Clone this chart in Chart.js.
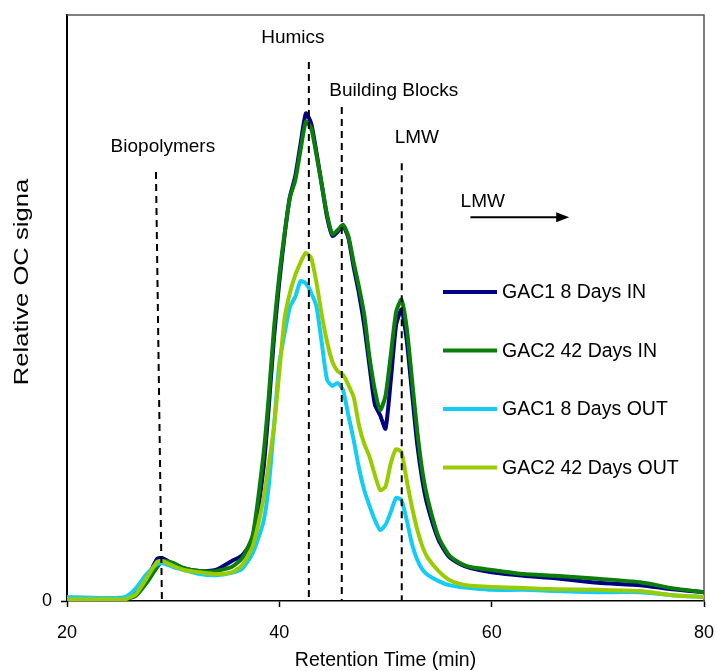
<!DOCTYPE html>
<html>
<head>
<meta charset="utf-8">
<script src="https://cdn.jsdelivr.net/npm/chart.js@4"></script>
<style>
  html, body { margin: 0; padding: 0; background: #fff; }
  canvas { display: block; }
</style>
</head>
<body>
<canvas id="sec" width="717" height="671"></canvas>
<script>
// retention time grid (min)
const times = [20, 24, 25.5, 26.5, 27.5, 28.5, 29, 30, 31, 32.5, 34, 35.5, 36.5, 37.5, 38.5, 39, 39.5, 40, 40.5, 41, 41.5, 42, 42.5, 43, 43.5, 44, 44.5, 45, 45.5, 46, 46.5, 47, 47.5, 48, 48.5, 49, 49.5, 50, 50.5, 51, 51.5, 52, 52.5, 53, 53.5, 54, 55, 56, 57, 58, 60, 63, 66, 70, 74, 77, 80]

const gac1In = [0.5, 0.5, 0.5, 1.5, 3.8, 7.2, 7.3, 6.3, 5.6, 5.1, 5.3, 6.8, 7.8, 10.5, 22.5, 33, 45, 54.5, 62.5, 69, 72.5, 78, 83.2, 81.5, 76.5, 71, 65.5, 62.3, 63, 64, 62, 57, 52.5, 47, 40, 33.5, 31.7, 29.4, 37.7, 47.1, 49.7, 44.5, 35.5, 26.6, 20.3, 16, 10.4, 7.5, 6.3, 5.6, 4.9, 4.3, 3.9, 3.1, 2.7, 2, 1.5]
const gac2In = [0.3, 0.3, 0.3, 0.9, 3.1, 5.8, 6.8, 6.5, 5.6, 5.1, 5.1, 5.8, 7.3, 11.3, 24.9, 34.8, 46.6, 55.6, 62.8, 68.9, 71.8, 77, 81.8, 80.7, 76.1, 71, 65.9, 62.6, 63.3, 64.2, 62.3, 57.8, 53.6, 48.8, 41.5, 36, 32.6, 35, 42, 49.3, 51.4, 46.6, 37.7, 28.8, 21.8, 17.2, 10.9, 7.8, 6.5, 5.8, 5.3, 4.6, 4.3, 3.8, 3.2, 2.2, 1.5]
const gac1Out = [0.7, 0.5, 0.7, 2.2, 4.6, 6.3, 6.5, 5.8, 5.3, 4.6, 4.4, 4.8, 5.5, 8.2, 13.5, 19.6, 29.9, 40.6, 45.7, 50.2, 51.9, 54.6, 54.2, 52.6, 50.2, 44, 37.7, 36.7, 37.2, 36, 31.7, 27.5, 22.7, 18.9, 16.2, 13.8, 12.1, 13, 15.2, 17.6, 17.2, 13.8, 9.7, 7, 5.3, 4.4, 3.4, 2.7, 2.4, 2.2, 1.9, 1.9, 1.7, 1.5, 1.5, 1, 0.7]
const gac2Out = [0.3, 0.3, 0.3, 1.2, 3.9, 6.7, 6.8, 6, 5.3, 4.9, 4.6, 4.9, 6.1, 9.4, 17.4, 23.4, 29.7, 39.1, 48.3, 52.6, 55.6, 57.8, 59.4, 58.5, 54.3, 48.8, 44.2, 40.8, 39.2, 38.6, 36.9, 34.8, 30, 26.8, 24.6, 21.5, 18.9, 19.5, 23.5, 25.9, 25.4, 20.6, 16, 12.1, 9.2, 7.3, 5.1, 3.6, 2.9, 2.6, 2.4, 2.2, 2, 1.9, 1.7, 1, 0.7]

const seriesLabels = ['GAC1 8 Days IN', 'GAC2 42 Days IN', 'GAC1 8 Days OUT', 'GAC2 42 Days OUT']
const seriesColors = ['#000080', '#0a7d0a', '#14ccf5', '#99cc00']

// fraction marker lines: time at top, time at bottom, height of top
const markerNames = ['Biopolymers', 'Humics', 'Building Blocks', 'LMW']
const markerTop = [28.38, 42.78, 45.88, 51.53]
const markerBottom = [28.94, 42.78, 45.88, 51.53]
const markerHeight = [73.2, 92.0, 84.3, 74.7]
// label anchor (time, signal) for each marker name
const labelTime = [29.03, 41.28, 50.78, 52.95]
const labelValue = [77.5, 96.1, 87.0, 79.0]

// "LMW" arrow
const arrowText = 'LMW'
const arrowTextAt = [59.16, 68.1]
const arrowFrom = [58.0, 65.5]
const arrowTo = [67.3, 65.5]

const FONT = '"Liberation Sans", Arial, sans-serif'

const toPoints = (vals) => vals.map((v, i) => ({ x: times[i], y: v }))

const seriesSets = [gac1In, gac2In, gac1Out, gac2Out].map((vals, i) => ({
  label: seriesLabels[i],
  data: toPoints(vals),
  borderColor: seriesColors[i],
  borderWidth: 4,
  pointRadius: 0,
  tension: 0.2,
  order: 4 - i
}))

const markerSets = markerTop.map((t, i) => ({
  label: markerNames[i] + ' line',
  data: [{ x: t, y: markerHeight[i] }, { x: markerBottom[i], y: 0 }],
  borderColor: '#000',
  borderWidth: 2,
  borderDash: [7, 5],
  pointRadius: 0,
  order: 0
}))

const extras = {
  id: 'extras',
  beforeDatasetsDraw(chart) {
    const { ctx, chartArea: a } = chart
    ctx.save()
    ctx.strokeStyle = '#555'
    ctx.lineWidth = 1.5
    ctx.beginPath()
    ctx.moveTo(a.left, a.top)
    ctx.lineTo(a.right, a.top)
    ctx.lineTo(a.right, a.bottom)
    ctx.stroke()
    ctx.restore()
  },
  afterDraw(chart) {
    const { ctx } = chart
    const xs = chart.scales.x, ys = chart.scales.y
    ctx.save()
    ctx.fillStyle = '#000'
    ctx.strokeStyle = '#000'
    ctx.font = '19px ' + FONT
    ctx.textAlign = 'center'
    ctx.textBaseline = 'middle'
    markerNames.forEach((n, i) => {
      ctx.fillText(n, xs.getPixelForValue(labelTime[i]), ys.getPixelForValue(labelValue[i]))
    })
    ctx.fillText(arrowText, xs.getPixelForValue(arrowTextAt[0]), ys.getPixelForValue(arrowTextAt[1]))

    // arrow
    const x0 = xs.getPixelForValue(arrowFrom[0]), y0 = ys.getPixelForValue(arrowFrom[1])
    const x1 = xs.getPixelForValue(arrowTo[0]), y1 = ys.getPixelForValue(arrowTo[1])
    ctx.lineWidth = 2
    ctx.beginPath()
    ctx.moveTo(x0, y0)
    ctx.lineTo(x1 - 4, y1)
    ctx.stroke()
    ctx.beginPath()
    ctx.moveTo(x1, y1)
    ctx.lineTo(x1 - 13, y1 - 5)
    ctx.lineTo(x1 - 13, y1 + 5)
    ctx.closePath()
    ctx.fill()

    // legend
    ctx.font = '19.5px ' + FONT
    ctx.textAlign = 'left'
    seriesLabels.forEach((lab, i) => {
      const y = 292 + i * 58.5
      ctx.strokeStyle = seriesColors[i]
      ctx.lineWidth = 4
      ctx.beginPath()
      ctx.moveTo(443, y)
      ctx.lineTo(497, y)
      ctx.stroke()
      ctx.fillText(lab, 502, y + 1)
    })

    // y axis title
    ctx.translate(22, 282)
    ctx.rotate(-Math.PI / 2)
    ctx.scale(1.22, 1)
    ctx.textAlign = 'center'
    ctx.font = '21px ' + FONT
    ctx.fillText('Relative OC signa', 0, 0)
    ctx.restore()
  }
}

new Chart(document.getElementById('sec'), {
  type: 'line',
  data: { datasets: [...seriesSets, ...markerSets] },
  options: {
    responsive: false,
    animation: false,
    events: [],
    layout: { padding: { top: 15, right: 13, left: 0, bottom: 0 } },
    plugins: { legend: { display: false }, tooltip: { enabled: false } },
    scales: {
      x: {
        type: 'linear',
        min: 20,
        max: 80,
        afterBuildTicks: (s) => { s.ticks = [20, 40, 60, 80].map(v => ({ value: v })) },
        afterFit: (s) => { s.height = 70; s.paddingLeft = 0; s.paddingRight = 0 },
        border: { color: '#000', width: 1.5 },
        grid: { drawOnChartArea: false, color: '#000', tickLength: 6, tickWidth: 1.5 },
        ticks: { color: '#000', font: { family: FONT, size: 18 }, padding: 15, maxRotation: 0 },
        title: {
          display: true,
          text: 'Retention Time (min)',
          color: '#000',
          font: { family: FONT, size: 19.5, lineHeight: 1.1 },
          padding: { top: 0, bottom: 0 }
        }
      },
      y: {
        min: 0,
        max: 100,
        afterBuildTicks: (s) => { s.ticks = [{ value: 0 }] },
        afterFit: (s) => { s.width = 67; s.paddingTop = 0; s.paddingBottom = 0 },
        border: { color: '#000', width: 2 },
        grid: { drawOnChartArea: false, color: '#000', tickLength: 6, tickWidth: 1.5 },
        ticks: { color: '#000', font: { family: FONT, size: 18 }, padding: 9 }
      }
    }
  },
  plugins: [extras]
})
</script>
</body>
</html>
